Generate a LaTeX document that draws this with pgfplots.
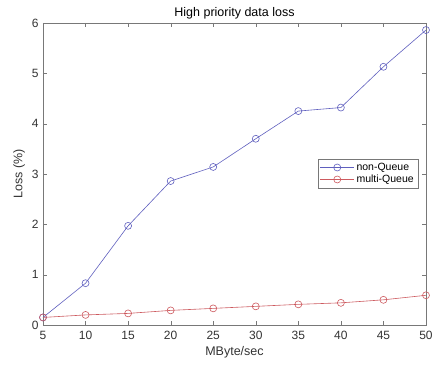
\documentclass[border=0pt]{standalone}
\usepackage{pgfplots}
\pgfplotsset{compat=1.18}
\usepackage{fontspec}
\setmainfont{Liberation Sans}
\definecolor{myblue}{RGB}{95,95,190}
\definecolor{myred}{RGB}{205,90,95}
\definecolor{axgray}{RGB}{120,120,120}
\begin{document}
\begin{tikzpicture}
\begin{axis}[
  name=ax,
  scale only axis,
  width=383pt, height=302pt,
  xmin=5, xmax=50, ymin=0, ymax=6,
  xtick={5,10,...,50}, ytick={0,1,...,6},
  tick align=inside,
  major tick length=4pt,
  axis line style={axgray},
  tick style={axgray},
  tick label style={font=\fontsize{12}{13}\selectfont, text=black!80},
  xticklabel style={yshift=-3pt},
  yticklabel style={xshift=-1pt},
  /pgf/number format/assume math mode=true,
  title={High priority data loss},
  title style={font=\fontsize{12.5}{14}\selectfont, yshift=-6pt},
  xlabel={MByte/sec},
  ylabel={Loss (\%)},
  label style={font=\fontsize{12.5}{14}\selectfont, text=black!80},
  xlabel style={yshift=0pt},
  ylabel style={yshift=0pt},
  legend style={at={(0.979,0.55)}, anchor=north east, font=\fontsize{10.5}{12}\selectfont,
    draw=axgray, row sep=-1pt, inner sep=2pt},
  legend cell align=left,
  legend image code/.code={\draw[mark repeat=2,mark phase=2,#1] plot coordinates {(0pt,0pt) (17pt,0pt) (34pt,0pt)};},
]
\addplot[myblue, line width=0.6pt, mark=o, mark size=3.5pt] coordinates {
(5,0.15) (10,0.83) (15,1.97) (20,2.86) (25,3.14) (30,3.70) (35,4.25) (40,4.32) (45,5.13) (50,5.86)};
\addlegendentry{non-Queue}
\addplot[myred, line width=0.6pt, mark=o, mark size=3.5pt] coordinates {
(5,0.15) (10,0.20) (15,0.23) (20,0.29) (25,0.33) (30,0.37) (35,0.41) (40,0.44) (45,0.50) (50,0.59)};
\addlegendentry{multi-Queue}
\end{axis}
\path (ax.south west) ++(-43pt,-40pt) coordinate (bbA);
\path (ax.north east) ++(10pt,23pt) coordinate (bbB);
\path (bbA) rectangle (bbB);
\end{tikzpicture}
\end{document}
